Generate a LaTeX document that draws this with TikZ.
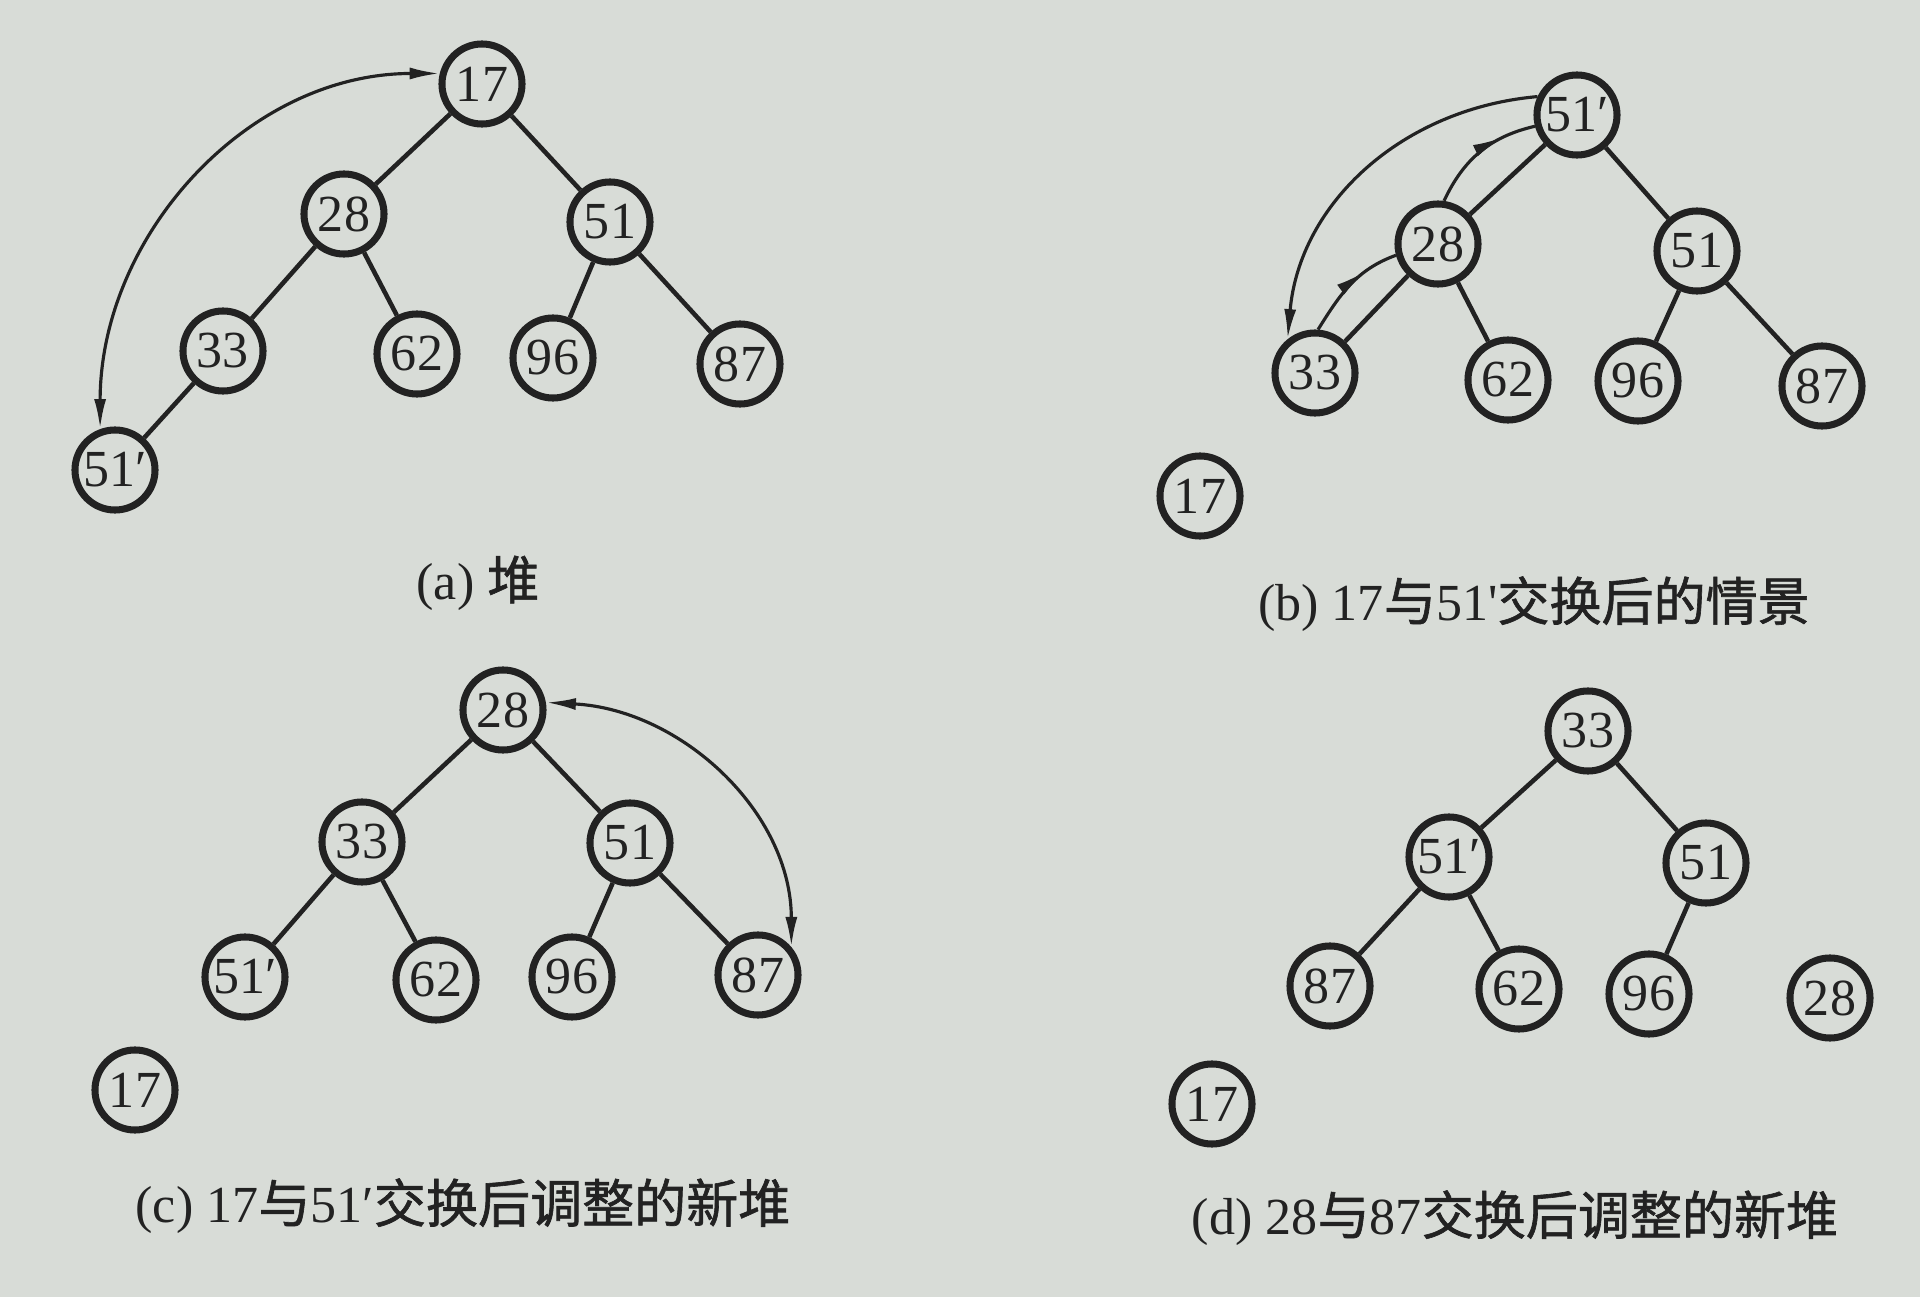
\documentclass[tikz,border=0pt]{standalone}
\usepackage{fontspec}
\setmainfont{Liberation Serif}
\newfontfamily\cjk{Noto Sans CJK SC}[FakeBold=1.2]
\usetikzlibrary{arrows.meta,decorations.markings}
\definecolor{paper}{RGB}{216,220,215}
\definecolor{ink}{RGB}{34,34,34}
\begin{document}
\begin{tikzpicture}[x=0.01cm,y=-0.01cm,
  >={Latex[length=0.3cm,width=0.12cm]},
  hn/.style={circle,draw=ink,line width=2pt,minimum size=0.8cm,inner sep=0pt,text=ink,font=\fontsize{14.8}{14.8}\selectfont},
  treeedge/.style={draw=ink,line width=1.3pt},
  swaparc/.style={draw=ink,line width=0.9pt},
  midarrow/.style={postaction={decorate},decoration={markings,mark=at position #1 with {\arrow{>}}}},
  captext/.style={text=ink,font=\fontsize{14.8}{14.8}\selectfont,inner sep=0pt}]
\fill[paper] (0,0) rectangle (1920,1297);
\useasboundingbox (0,0) rectangle (1920,1297);

% ---------- (a) ----------
\node[hn] (a17) at (482,84) {17};
\node[hn] (a28) at (344,214) {28};
\node[hn] (a51) at (610,222) {51};
\node[hn] (a33) at (223,351) {33};
\node[hn] (a62) at (417,354) {62};
\node[hn] (a96) at (553,358) {96};
\node[hn] (a87) at (740,364) {87};
\node[hn] (a51p) at (115,470) {51′};
\draw[treeedge] (a17) -- (a28);
\draw[treeedge] (a17) -- (a51);
\draw[treeedge] (a28) -- (a33);
\draw[treeedge] (a28) -- (a62);
\draw[treeedge] (a51) -- (a96);
\draw[treeedge] (a51) -- (a87);
\draw[treeedge] (a33) -- (a51p);
\draw[swaparc,<->] (a17.166) to[out=180,in=90] (a51p.110);
\node[captext] (capa) at (478,583) {(a) {\cjk 堆}};

% ---------- (b) ----------
\node[hn] (b51p) at (1577,115) {51′};
\node[hn] (b28) at (1438,244) {28};
\node[hn] (b51) at (1697,251) {51};
\node[hn] (b33) at (1315,373) {33};
\node[hn] (b62) at (1508,380) {62};
\node[hn] (b96) at (1638,381) {96};
\node[hn] (b87) at (1822,386) {87};
\node[hn] (b17) at (1200,496) {17};
\draw[treeedge] (b51p) -- (b28);
\draw[treeedge] (b51p) -- (b51);
\draw[treeedge] (b28) -- (b33);
\draw[treeedge] (b28) -- (b62);
\draw[treeedge] (b51) -- (b96);
\draw[treeedge] (b51) -- (b87);
\draw[swaparc,->] (b51p.155) to[out=185,in=85] (b33.129);
\draw[swaparc,midarrow=0.72] (b28.82) to[out=65,in=193] (b51p.195);
\draw[swaparc,midarrow=0.68] (b33.86) to[out=58,in=200] (b28.195);
\node[captext] (capb) at (1534,604) {(b) 17{\cjk 与}51\textquotesingle{\cjk 交换后的情景}};

% ---------- (c) ----------
\node[hn] (c28) at (503,710) {28};
\node[hn] (c33) at (362,842) {33};
\node[hn] (c51) at (630,843) {51};
\node[hn] (c51p) at (245,977) {51′};
\node[hn] (c62) at (436,980) {62};
\node[hn] (c96) at (572,977) {96};
\node[hn] (c87) at (758,975) {87};
\node[hn] (c17) at (135,1090) {17};
\draw[treeedge] (c28) -- (c33);
\draw[treeedge] (c28) -- (c51);
\draw[treeedge] (c33) -- (c51p);
\draw[treeedge] (c33) -- (c62);
\draw[treeedge] (c51) -- (c96);
\draw[treeedge] (c51) -- (c87);
\draw[swaparc,<->] (c28.10) to[out=-3,in=90] (c87.40);
\node[captext] (capc) at (463,1206) {(c) 17{\cjk 与}51′{\cjk 交换后调整的新堆}};

% ---------- (d) ----------
\node[hn] (d33) at (1588,731) {33};
\node[hn] (d51p) at (1449,857) {51′};
\node[hn] (d51) at (1706,863) {51};
\node[hn] (d87) at (1330,986) {87};
\node[hn] (d62) at (1519,989) {62};
\node[hn] (d96) at (1649,994) {96};
\node[hn] (d28) at (1830,998) {28};
\node[hn] (d17) at (1212,1104) {17};
\draw[treeedge] (d33) -- (d51p);
\draw[treeedge] (d33) -- (d51);
\draw[treeedge] (d51p) -- (d87);
\draw[treeedge] (d51p) -- (d62);
\draw[treeedge] (d51) -- (d96);
\node[captext] (capd) at (1515,1218) {(d) 28{\cjk 与}87{\cjk 交换后调整的新堆}};
\end{tikzpicture}
\end{document}
